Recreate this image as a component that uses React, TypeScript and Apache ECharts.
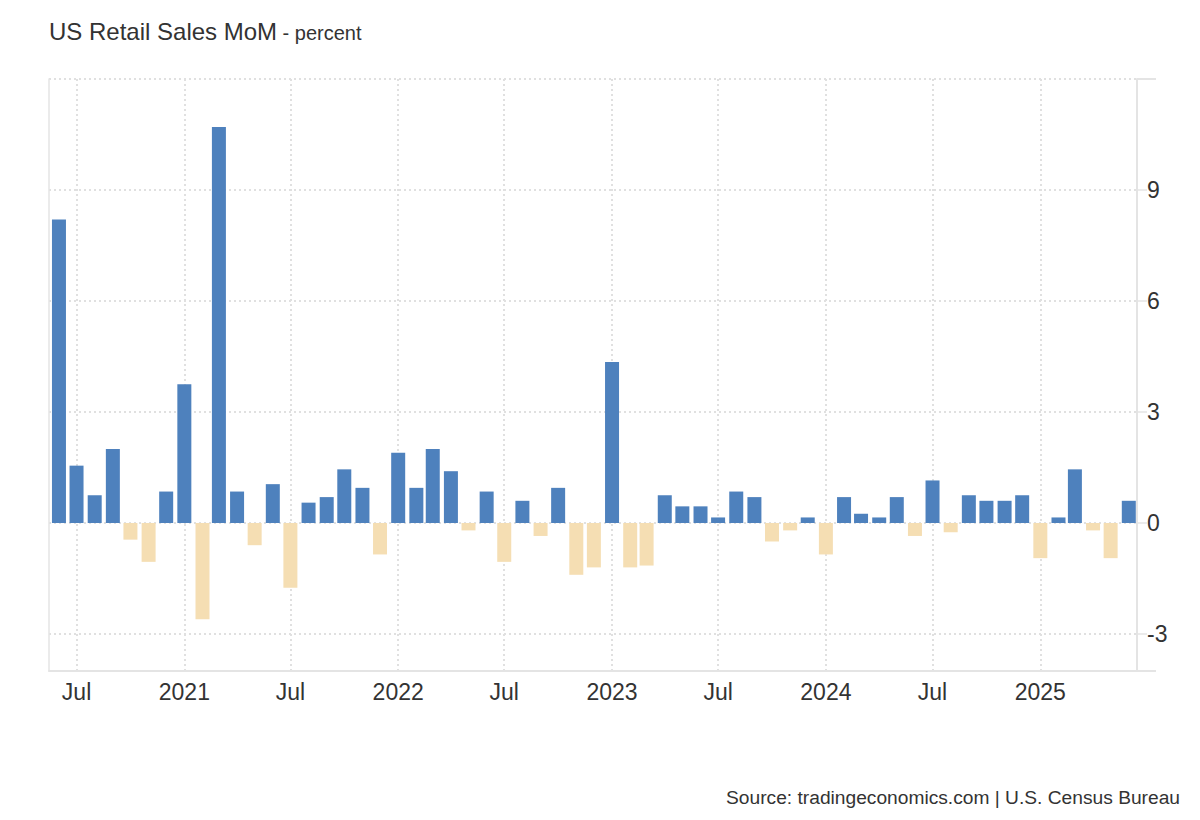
import React, { useEffect, useRef } from 'react';
import * as echarts from 'echarts';

const months: string[] = [
  '2020-06', '2020-07', '2020-08', '2020-09', '2020-10', '2020-11', '2020-12',
  '2021-01', '2021-02', '2021-03', '2021-04', '2021-05', '2021-06', '2021-07', '2021-08', '2021-09', '2021-10', '2021-11', '2021-12',
  '2022-01', '2022-02', '2022-03', '2022-04', '2022-05', '2022-06', '2022-07', '2022-08', '2022-09', '2022-10', '2022-11', '2022-12',
  '2023-01', '2023-02', '2023-03', '2023-04', '2023-05', '2023-06', '2023-07', '2023-08', '2023-09', '2023-10', '2023-11', '2023-12',
  '2024-01', '2024-02', '2024-03', '2024-04', '2024-05', '2024-06', '2024-07', '2024-08', '2024-09', '2024-10', '2024-11', '2024-12',
  '2025-01', '2025-02', '2025-03', '2025-04', '2025-05', '2025-06',
];

const retailSalesMoM: number[] = [
  8.2, 1.55, 0.75, 2.0, -0.45, -1.05, 0.85,
  3.75, -2.6, 10.7, 0.85, -0.6, 1.05, -1.75, 0.55, 0.7, 1.45, 0.95, -0.85,
  1.9, 0.95, 2.0, 1.4, -0.2, 0.85, -1.05, 0.6, -0.35, 0.95, -1.4, -1.2,
  4.35, -1.2, -1.15, 0.75, 0.45, 0.45, 0.15, 0.85, 0.7, -0.5, -0.2, 0.15,
  -0.85, 0.7, 0.25, 0.15, 0.7, -0.35, 1.15, -0.25, 0.75, 0.6, 0.6, 0.75,
  -0.95, 0.15, 1.45, -0.2, -0.95, 0.6,
];

const xTickMonths: string[] = [
  '2020-07', '2021-01', '2021-07', '2022-01', '2022-07',
  '2023-01', '2023-07', '2024-01', '2024-07', '2025-01',
];

const yLabelValues: number[] = [-3, 0, 3, 6, 9];
const yGridValues: number[] = [-3, 0, 3, 6, 9, 12];
const yEdgeValues: number[] = [-4, 12];

const titleText = 'US Retail Sales MoM';
const unitText = ' - percent';
const sourceText = 'Source: tradingeconomics.com | U.S. Census Bureau';

const FONT = '"Liberation Sans", Arial, Helvetica, sans-serif';
const POS_COLOR = '#4e81bd';
const NEG_COLOR = '#f5deb3';
const AXIS_COLOR = '#e4e4e4';

const toTime = (m: string): number => {
  const [y, mo] = m.split('-').map(Number);
  return new Date(y, mo - 1, 1).getTime();
};

export default function App() {
  const ref = useRef<HTMLDivElement>(null);

  useEffect(() => {
    if (!ref.current) return;
    const chart = echarts.init(ref.current, null, { renderer: 'svg' });
    const xTicks = xTickMonths.map(toTime);
    const gridLine = { color: '#e0e0e0', width: 2, type: [2, 3] as number[] };

    chart.setOption({
      animation: false,
      backgroundColor: '#ffffff',
      textStyle: { fontFamily: FONT },
      title: {
        text: `{a|${titleText}}{b|${unitText}}`,
        left: 49,
        top: 19,
        padding: 0,
        textStyle: {
          fontWeight: 'normal',
          rich: {
            a: { fontSize: 24, fontWeight: 'normal', color: '#333333', fontFamily: FONT, verticalAlign: 'bottom' },
            b: { fontSize: 20, fontWeight: 'normal', color: '#333333', fontFamily: FONT, verticalAlign: 'bottom' },
          },
        },
      },
      grid: { left: 49, right: 63, top: 79, bottom: 149, containLabel: false },
      xAxis: {
        type: 'value',
        min: new Date(2020, 4, 15).getTime(),
        max: new Date(2025, 5, 15).getTime(),
        axisLine: { show: true, onZero: false, lineStyle: { color: AXIS_COLOR, width: 2 } },
        axisTick: { show: false, customValues: xTicks },
        axisLabel: {
          customValues: xTicks,
          fontSize: 23,
          color: '#333333',
          fontFamily: FONT,
          margin: 9,
          hideOverlap: false,
          formatter: (v: number) => {
            const d = new Date(v);
            return d.getMonth() === 0 ? String(d.getFullYear()) : 'Jul';
          },
        },
        splitLine: { show: true, lineStyle: gridLine },
      },
      yAxis: [
        {
          type: 'value',
          position: 'right',
          min: -4,
          max: 12,
          axisLine: { show: true, lineStyle: { color: AXIS_COLOR, width: 2 } },
          axisTick: { show: true, customValues: yGridValues, length: 10, lineStyle: { color: AXIS_COLOR, width: 1.5 } },
          axisLabel: { customValues: yLabelValues, fontSize: 23, color: '#333333', fontFamily: FONT, margin: 10 },
          splitLine: { show: true, lineStyle: gridLine },
        },
        {
          type: 'value',
          position: 'left',
          min: -4,
          max: 12,
          axisLine: { show: true, onZero: false, lineStyle: { color: AXIS_COLOR, width: 1.5 } },
          axisTick: { show: false },
          axisLabel: { show: false },
          splitLine: { show: false },
        },
        {
          type: 'value',
          position: 'right',
          min: -4,
          max: 12,
          axisLine: { show: false },
          axisTick: { show: true, customValues: yEdgeValues, length: 19, lineStyle: { color: AXIS_COLOR, width: 2 } },
          axisLabel: { show: false },
          splitLine: { show: false },
        },
      ],
      series: [
        {
          type: 'bar',
          yAxisIndex: 0,
          barWidth: 14,
          data: months.map((m, i) => ({
            value: [toTime(m), retailSalesMoM[i]],
            itemStyle: { color: retailSalesMoM[i] >= 0 ? POS_COLOR : NEG_COLOR },
          })),
        },
      ],
      graphic: [
        {
          type: 'text',
          right: 20,
          top: 788,
          style: { text: sourceText, fontSize: 19.2, fill: '#333333', fontFamily: FONT },
        },
      ],
    });

    return () => chart.dispose();
  }, []);

  return (
    <div
      ref={ref}
      style={{ position: 'fixed', left: 0, top: 0, width: 1200, height: 820 }}
    />
  );
}
